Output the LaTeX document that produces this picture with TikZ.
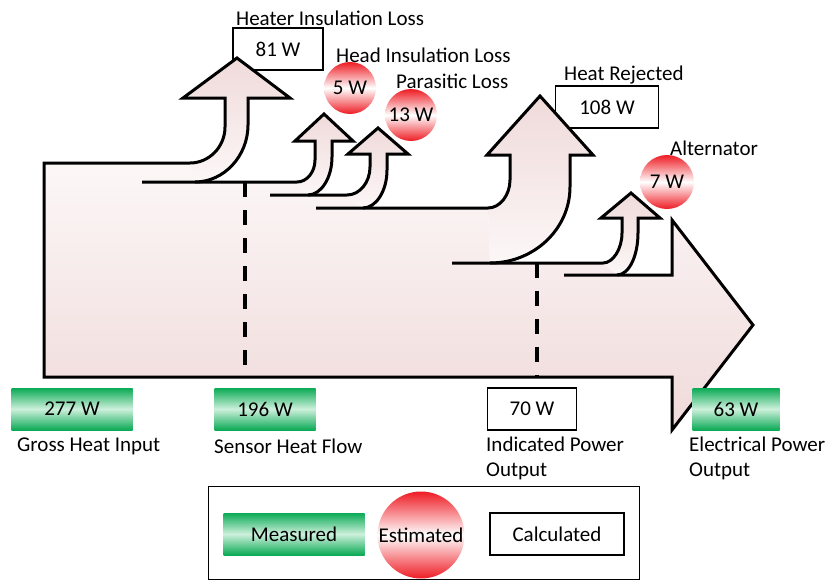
\documentclass[tikz,border=0pt]{standalone}
\usepackage{fontspec}
\setmainfont{Carlito}
\definecolor{flowlight}{HTML}{FCF7F7}
\definecolor{flowdark}{HTML}{F0DADA}
\definecolor{measgreen}{HTML}{0BAA55}
\definecolor{measpale}{HTML}{CDF0DC}
\definecolor{estred}{HTML}{EE1C24}

\begin{document}
\begin{tikzpicture}[x=1pt, y=-1pt, line join=miter,
  every node/.style={font=\fontsize{21}{25}\selectfont, inner sep=0pt},
  meas/.style={top color=measgreen, bottom color=measgreen, middle color=measpale, minimum height=42pt},
  est/.style={circle, top color=estred, bottom color=estred, middle color=white},
  calc/.style={draw, line width=1.6pt, fill=white, minimum height=42pt},
  outline/.style={line width=3pt},
  split/.style={line width=4pt, dash pattern=on 15pt off 13pt},
  branch/.style={top color=flowdark, bottom color=flowlight}]
\useasboundingbox (0,0) rectangle (828,581);
\node[calc, minimum width=90pt] (b81) at (278,49) {81 W};
\node[calc, minimum width=103pt] (b108) at (607,107) {108 W};
\shade[top color=flowlight, bottom color=flowdark] (44,163) -- (190,163) -- (195,182) -- (297,182) -- (308,195) -- (347,195) -- (363,208) -- (488,208) -- (490,263) -- (603,263) -- (617,275) -- (672,275) -- (672,220) -- (753,325) -- (672,430) -- (672,377) -- (44,377) -- cycle;
\shade[branch] (190,163) .. controls (209,163) and (225,147) .. (225,127) -- (225,98) -- (183,98) -- (237,58) -- (290,98) -- (248,98) -- (248,125) .. controls (248,156) and (224,182) .. (195,182) -- cycle;
\shade[branch] (297,182) .. controls (307,182) and (315,172) .. (315,160) -- (315,141) -- (295,141) -- (324,114) -- (353,141) -- (332,141) -- (332,157) .. controls (332,178) and (321,195) .. (308,195) -- cycle;
\shade[branch] (347,195) .. controls (360,195) and (370,182) .. (370,167) -- (370,154) -- (348,154) -- (378,128) -- (408,154) -- (387,154) -- (387,170) .. controls (387,191) and (376,208) .. (363,208) -- cycle;
\shade[branch] (488,208) .. controls (500,208) and (510,195) .. (510,180) -- (510,155) -- (487,155) -- (540,96) -- (593,155) -- (570,155) -- (570,187) .. controls (570,229) and (534,263) .. (490,263) -- cycle;
\shade[branch] (603,263) .. controls (613,263) and (622,249) .. (622,233) -- (622,218) -- (601,218) -- (631,193) -- (660,218) -- (638,218) -- (638,233) .. controls (638,256) and (629,275) .. (617,275) -- cycle;
\draw[outline] (564,275) -- (672,275) -- (672,220) -- (753,325) -- (672,430) -- (672,377) -- (44,377) -- (44,163) -- (190,163) .. controls (209,163) and (225,147) .. (225,127) -- (225,98) -- (183,98) -- (237,58) -- (290,98) -- (248,98) -- (248,125) .. controls (248,156) and (224,182) .. (195,182);
\draw[outline] (142,182) -- (297,182) .. controls (307,182) and (315,172) .. (315,160) -- (315,141) -- (295,141) -- (324,114) -- (353,141) -- (332,141) -- (332,157) .. controls (332,178) and (321,195) .. (308,195);
\draw[outline] (270,195) -- (347,195) .. controls (360,195) and (370,182) .. (370,167) -- (370,154) -- (348,154) -- (378,128) -- (408,154) -- (387,154) -- (387,170) .. controls (387,191) and (376,208) .. (363,208);
\draw[outline] (316,208) -- (488,208) .. controls (500,208) and (510,195) .. (510,180) -- (510,155) -- (487,155) -- (540,96) -- (593,155) -- (570,155) -- (570,187) .. controls (570,229) and (534,263) .. (490,263);
\draw[outline] (452,263) -- (603,263) .. controls (613,263) and (622,249) .. (622,233) -- (622,218) -- (601,218) -- (631,193) -- (660,218) -- (638,218) -- (638,233) .. controls (638,256) and (629,275) .. (617,275);
\draw[split] (245,182) -- (245,368);
\draw[split] (537,263) -- (537,377);
\node[est, minimum size=52pt] (c5) at (350,88) {5 W};
\node[est, minimum size=52pt] (c13) at (411,115) {13 W};
\node[est, minimum size=54pt] (c7) at (667,182) {7 W};
\node[meas, minimum width=121pt] (g277) at (72,409) {277 W};
\node[meas, minimum width=101pt] (g196) at (265,409) {196 W};
\node[calc, minimum width=89pt] (b70) at (532,409) {70 W};
\node[meas, minimum width=87pt] (g63) at (736,409) {63 W};
\node[anchor=west] (hil) at (236,18) {Heater Insulation Loss};
\node[anchor=west] (hdl) at (336,55) {Head Insulation Loss};
\node[anchor=west] (pl) at (396,81) {Parasitic Loss};
\node[anchor=west] (hr) at (564,75) {Heat Rejected};
\node[anchor=west] (alt) at (670,148) {Alternator};
\node[anchor=west] (ghi) at (17,446) {Gross Heat Input};
\node[anchor=west] (shf) at (214,446) {Sensor Heat Flow};
\node[anchor=north west, align=left] (ipo) at (486,437) {Indicated Power\\Output};
\node[anchor=north west, align=left] (epo) at (689,437) {Electrical Power\\Output};
\node[draw, line width=1.6pt, minimum width=431pt, minimum height=93pt] (key) at (424,533) {};
\node[meas, minimum width=141pt] (km) at (294,534) {Measured};
\node[est, minimum size=87pt] (ke) at (421,535) {Estimated};
\node[calc, minimum width=134pt] (kc) at (557,534) {Calculated};
\end{tikzpicture}
\end{document}
